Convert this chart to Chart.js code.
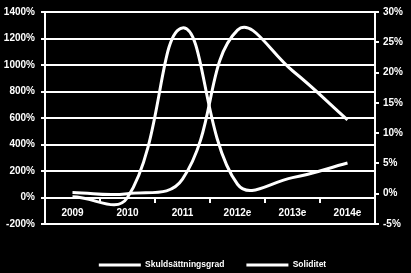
<!DOCTYPE html>
<html>
<head>
<meta charset="utf-8">
<script src="https://cdn.jsdelivr.net/npm/chart.js@4"></script>
<style>
body{margin:0;background:#000}
canvas{display:block}
</style>
</head>
<body>
<canvas id="chart" width="411" height="273"></canvas>
<script>

const years = ["2009","2010","2011","2012e","2013e","2014e"]
const skuld = [5, 0, 1280, 100, 150, 260]
const soliditet = [0.2, 0, 2.4, 27, 20.3, 12.2]

Chart.defaults.font.family = "'Liberation Sans', Arial, sans-serif"
Chart.defaults.color = "#fff"

const tickFont = { size:10, weight:"bold" }

new Chart(document.getElementById("chart"),{
type:"line",
data:{
labels:years,
datasets:[{
label:"Skuldsättningsgrad",
data:skuld,
yAxisID:"y",
borderColor:"#fff",
backgroundColor:"#fff",
borderWidth:3,
pointRadius:0,
tension:0.42
},{
label:"Soliditet",
data:soliditet,
yAxisID:"y1",
borderColor:"#fff",
backgroundColor:"#fff",
borderWidth:3,
pointRadius:0,
tension:0.42
}]
},
options:{
responsive:false,
devicePixelRatio:1,
animation:false,
// negative right padding only shifts the centred legend a bit to the right
layout:{ padding:{ left:0, top:8, right:-14, bottom:0 } },
plugins:{
tooltip:{ enabled:false },
legend:{
position:"bottom",
maxHeight:49,
title:{ display:true, text:"", font:{ size:1 }, padding:{ top:13.5, bottom:0 } },
labels:{
color:"#fff",
font:{ size:8.5, weight:"bold" },
usePointStyle:true,
pointStyle:"line",
pointStyleWidth:42,
padding:22
}
}
},
scales:{
x:{
type:"category",
position:{ y:0 },
offset:true,
grid:{ offset:true, drawOnChartArea:false, color:"#fff", lineWidth:2, tickLength:4 },
border:{ display:true, color:"#fff", width:2 },
ticks:{ color:"#fff", font:tickFont, padding:6, maxRotation:0 }
},
y:{
position:"left",
min:-200,
max:1400,
ticks:{ stepSize:200, color:"#fff", font:tickFont, padding:6, callback:v=>v+"%" },
grid:{ color:"#fff", lineWidth:2, tickLength:4 },
border:{ display:true, color:"#fff", width:2 },
afterFit:s=>{ s.width = 45 }
},
y1:{
position:"right",
min:-5,
max:30,
ticks:{ stepSize:5, color:"#fff", font:tickFont, padding:4, callback:v=>v+"%" },
grid:{ drawOnChartArea:false, color:"#fff", lineWidth:2, tickLength:4 },
border:{ display:true, color:"#fff", width:2 },
afterFit:s=>{ s.width = 50 }
}
}
}
})

</script>
</body>
</html>
